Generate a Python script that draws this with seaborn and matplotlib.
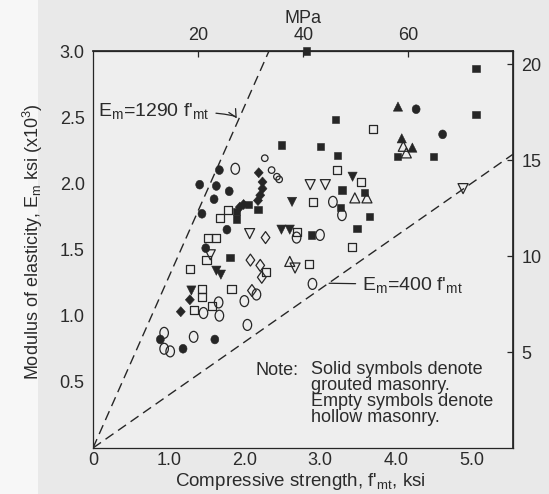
import matplotlib
matplotlib.use("Agg")
import matplotlib.pyplot as plt
import matplotlib.patches as mpatches
from matplotlib.path import Path
import numpy as np
import pandas as pd
import seaborn as sns

# ---------------- data: f'mt (ksi) and Em (x10^3 ksi) ----------------
fsq_f = [2.82, 5.06, 5.06, 3.20, 4.02, 4.50, 2.49, 3.01, 3.23, 3.29, 3.59, 3.27, 3.65, 3.49, 2.89, 2.05, 2.18, 1.90, 1.90, 1.81]
fsq_E = [3.00, 2.87, 2.52, 2.48, 2.20, 2.20, 2.29, 2.28, 2.21, 1.95, 1.93, 1.82, 1.75, 1.66, 1.61, 1.84, 1.80, 1.79, 1.73, 1.44]
osq_f = [3.70, 3.23, 3.54, 2.91, 2.69, 3.42, 1.78, 1.68, 1.52, 1.63, 1.50, 1.28, 2.29, 2.86, 1.44, 1.44, 1.83, 1.57, 1.33]
osq_E = [2.41, 2.10, 2.01, 1.86, 1.63, 1.52, 1.80, 1.74, 1.59, 1.59, 1.42, 1.35, 1.33, 1.39, 1.20, 1.14, 1.20, 1.07, 1.04]
fci_f = [4.27, 4.62, 1.67, 1.41, 1.63, 1.80, 1.60, 1.44, 1.77, 1.49, 1.61, 0.89, 1.19]
fci_E = [2.56, 2.37, 2.10, 1.99, 1.98, 1.94, 1.88, 1.77, 1.65, 1.51, 0.82, 0.82, 0.75]
oci_f = [1.88, 3.17, 3.29, 2.69, 3.00, 2.90, 2.16, 2.00, 1.66, 1.46, 1.67, 2.04, 1.33, 0.94, 0.94, 1.02]
oci_E = [2.11, 1.86, 1.76, 1.59, 1.61, 1.24, 1.16, 1.11, 1.10, 1.02, 1.00, 0.93, 0.84, 0.87, 0.75, 0.73]
sci_f = [2.27, 2.36, 2.43, 2.46]
sci_E = [2.19, 2.10, 2.05, 2.03]
fdi_f = [2.19, 2.24, 2.24, 2.21, 2.18, 1.99, 1.94, 1.28, 1.16]
fdi_E = [2.08, 2.01, 1.96, 1.91, 1.87, 1.84, 1.82, 1.12, 1.03]
odi_f = [2.28, 2.08, 2.21, 2.23, 2.10]
odi_E = [1.59, 1.42, 1.38, 1.29, 1.19]
ftd_f = [3.43, 2.63, 2.49, 2.60, 1.63, 1.69, 1.30]
ftd_E = [2.05, 1.86, 1.65, 1.65, 1.34, 1.31, 1.19]
otd_f = [2.87, 3.07, 2.07, 1.55, 4.89, 2.67]
otd_E = [1.99, 1.99, 1.62, 1.46, 1.96, 1.36]
ftu_f = [4.03, 4.08, 4.22]
ftu_E = [2.58, 2.34, 2.27]
otu_f = [4.10, 4.14, 3.46, 3.62, 2.60]
otu_E = [2.28, 2.23, 1.89, 1.89, 1.41]

line_slopes = [1.29, 0.40]          # Em = 1290 f'mt and 400 f'mt (x10^3)
x_ticks = [0, 1.0, 2.0, 3.0, 4.0, 5.0]
x_ticklabels = ["0", "1.0", "2.0", "3.0", "4.0", "5.0"]
y_ticks = [0.5, 1.0, 1.5, 2.0, 2.5, 3.0]
y_ticklabels = ["0.5", "1.0", "1.5", "2.0", "2.5", "3.0"]
mpa_ticks = [20, 40, 60]
gpa_ticks = [5, 10, 15, 20]

# ---------------- style ----------------
sns.set_theme(style="white")
plt.rcParams["font.family"] = ["Liberation Sans", "DejaVu Sans"]
plt.rcParams["mathtext.fontset"] = "custom"
plt.rcParams["mathtext.rm"] = "Liberation Sans"
plt.rcParams["mathtext.it"] = "Liberation Sans:italic"
ink = "#262626"
txt = "#2b2b2b"

def mk_df(fs, Es, shape):
    return pd.DataFrame({"f": fs, "E": Es, "shape": shape})

filled = pd.concat([
    mk_df(fsq_f, fsq_E, "square"),
    mk_df(fci_f, fci_E, "circle"),
    mk_df(fdi_f, fdi_E, "diamond"),
    mk_df(ftd_f, ftd_E, "tri_down"),
    mk_df(ftu_f, ftu_E, "tri_up"),
], ignore_index=True)
hollow = pd.concat([
    mk_df(osq_f, osq_E, "square"),
    mk_df(oci_f, oci_E, "oval"),
    mk_df(sci_f, sci_E, "small"),
    mk_df(odi_f, odi_E, "diamond"),
    mk_df(otd_f, otd_E, "tri_down"),
    mk_df(otu_f, otu_E, "tri_up"),
], ignore_index=True)

circ = Path.unit_circle()
oval_path = Path(circ.vertices * np.array([0.78, 1.0]), circ.codes)
fcirc_path = Path(circ.vertices * np.array([0.9, 1.0]), circ.codes)
def diamond(w):
    return Path([(0, 1), (w, 0), (0, -1), (-w, 0), (0, 1)],
                [Path.MOVETO, Path.LINETO, Path.LINETO, Path.LINETO, Path.CLOSEPOLY])

filled_markers = {"square": "s", "circle": fcirc_path, "diamond": diamond(0.9),
                  "tri_down": "v", "tri_up": "^"}
filled_sizes = {"square": 27, "circle": 40, "diamond": 52, "tri_down": 44, "tri_up": 44}
hollow_markers = {"square": "s", "oval": oval_path, "small": "o", "diamond": diamond(0.72),
                  "tri_down": "v", "tri_up": "^"}
hollow_sizes = {"square": 34, "oval": 62, "small": 22, "diamond": 74, "tri_down": 52, "tri_up": 52}

W, H = 549, 494
fig = plt.figure(figsize=(W / 100, H / 100), dpi=100, facecolor="#e9e9e9")
fig.patches.append(mpatches.Rectangle((0, 0), 38 / W, 1, transform=fig.transFigure,
                                      facecolor="#f7f7f7", edgecolor="none", zorder=-5))
L, R, T, B = 93, 513, 51, 448
ax = fig.add_axes([L / W, (H - B) / H, (R - L) / W, (B - T) / H])
ax.set_facecolor("#eeeeee")
XMAX, YMAX = 5.55, 3.0

# dashed reference lines
xx = np.array([0.0, XMAX])
for k in line_slopes:
    sns.lineplot(x=xx, y=k * xx, ax=ax, color=ink, lw=1.0, dashes=False,
                 linestyle=(0, (7, 4)), zorder=2)

sns.scatterplot(data=filled, x="f", y="E", style="shape", size="shape",
                markers=filled_markers, sizes=filled_sizes, color=ink,
                edgecolor=ink, linewidth=0.4, legend=False, ax=ax, zorder=3, clip_on=False)
sns.scatterplot(data=hollow, x="f", y="E", style="shape", size="shape",
                markers=hollow_markers, sizes=hollow_sizes, color=ink,
                facecolor="none", edgecolor=ink, linewidth=0.9, legend=False, ax=ax,
                zorder=3, clip_on=False)

ax.set_xlim(0, XMAX)
ax.set_ylim(0, YMAX)
ax.set_xticks(x_ticks)
ax.set_xticklabels(x_ticklabels)
ax.set_yticks(y_ticks)
ax.set_yticklabels(y_ticklabels)
ax.tick_params(direction="in", length=4, width=0.9, colors=ink, labelcolor=txt,
               labelsize=13, pad=6)
ax.tick_params(axis="x", pad=3)
for s in ax.spines.values():
    s.set_color(ink)
    s.set_linewidth(0.9)

ax.set_xlabel(r"Compressive strength, f$'_{\rm mt}$, ksi", fontsize=13.5, color=txt)
ax.xaxis.set_label_coords(0.493, -0.057)
ax.set_ylabel(r"Modulus of elasticity, E$_{\rm m}$ ksi (x10$^3$)", fontsize=13, color=txt)
ax.yaxis.set_label_coords(-0.115, 0.52)

top = ax.secondary_xaxis("top", functions=(lambda x: x * 14.4, lambda m: m / 14.4))
top.set_xticks(mpa_ticks)
top.tick_params(direction="in", length=4, width=0.9, colors=ink, labelcolor=txt,
                labelsize=13, pad=5)
top.set_xlabel("MPa", fontsize=13, color=txt, labelpad=3)

right = ax.secondary_yaxis("right", functions=(lambda e: e * 6.895, lambda g: g / 6.895))
right.set_yticks(gpa_ticks)
right.tick_params(direction="in", length=4, width=0.9, colors=ink, labelcolor=txt,
                  labelsize=13, pad=6)

# annotations
ax.annotate(r"E$_{\rm m}$=1290 f$'_{\rm mt}$", xy=(1.90, 2.49), xytext=(0.07, 2.545),
            fontsize=14, color=txt, va="center", ha="left",
            arrowprops=dict(arrowstyle="->", color=ink, lw=0.9,
                            connectionstyle="angle3,angleA=0,angleB=-60",
                            shrinkA=2, shrinkB=0))
ax.annotate(r"E$_{\rm m}$=400 f$'_{\rm mt}$", xy=(3.12, 1.245), xytext=(3.55, 1.235),
            fontsize=14, color=txt, va="center", ha="left",
            arrowprops=dict(arrowstyle="-", color=ink, lw=0.9, shrinkA=2, shrinkB=0))

ax.text(0.386, 0.196, "Note:", transform=ax.transAxes, fontsize=13, color=txt,
        ha="left", va="center")
ax.text(0.52, 0.218, "Solid symbols denote\ngrouted masonry.\nEmpty symbols denote\nhollow masonry.",
        transform=ax.transAxes, fontsize=13, color=txt, ha="left", va="top", linespacing=0.9)

fig.savefig("out.png", dpi=100, facecolor=fig.get_facecolor())
